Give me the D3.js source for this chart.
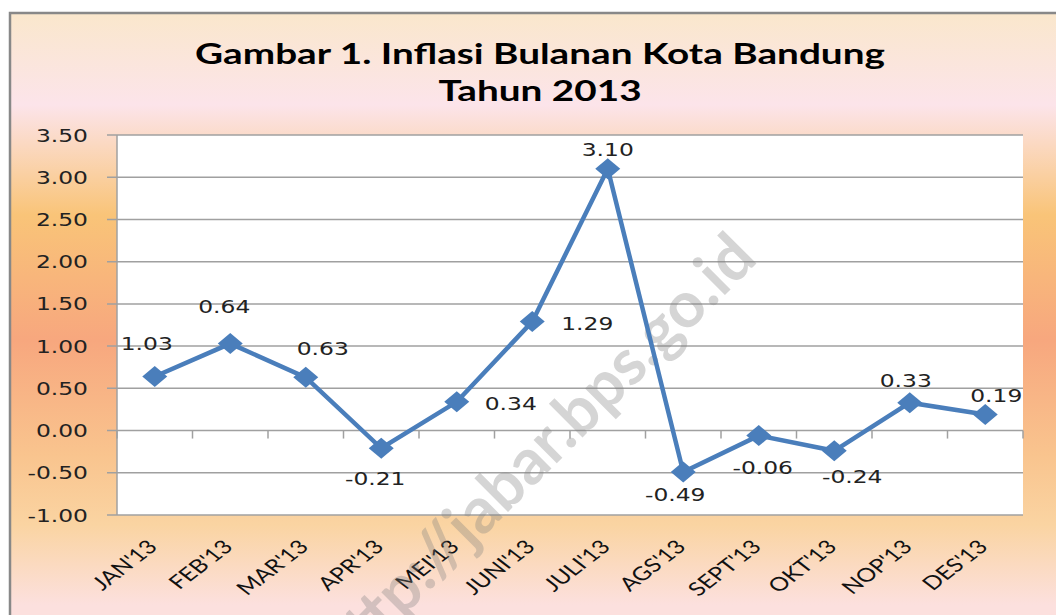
<!DOCTYPE html>
<html>
<head>
<meta charset="utf-8">
<script src="https://cdn.jsdelivr.net/npm/d3@7"></script>
<style>
  html, body { margin: 0; padding: 0; background: #fff; }
  svg { display: block; }
</style>
</head>
<body>
<svg id="chart" width="1056" height="615"></svg>
<script>
// ---- data ----
const titleLines = ["Gambar 1. Inflasi Bulanan Kota Bandung", "Tahun 2013"];
const categories = ["JAN'13","FEB'13","MAR'13","APR'13","MEI'13","JUNI'13","JULI'13","AGS'13","SEPT'13","OKT'13","NOP'13","DES'13"];
const values = [0.64, 1.03, 0.63, -0.21, 0.34, 1.29, 3.10, -0.49, -0.06, -0.24, 0.33, 0.19];
const valueLabels = ["1.03","0.64","0.63","-0.21","0.34","1.29","3.10","-0.49","-0.06","-0.24","0.33","0.19"];
const yTicks = [-1.0, -0.5, 0.0, 0.5, 1.0, 1.5, 2.0, 2.5, 3.0, 3.5];
const watermark = "http://jabar.bps.go.id";

// ---- label placement (style) ----
const labelOffsets = [[-8,-33],[-6,-37],[17,-29],[-6,30],[54,2],[55,2],[0,-19],[-8,23],[4,32],[18,26],[-4,-22],[11,-19]];

const svg = d3.select("#chart");
const W = 1056, H = 615;
const plot = {left: 117, right: 1023, top: 135, bottom: 515};
const stretch = 1.3;
const lineColor = "#4A7EBB";
const gridColor = "#A0A0A0";

// background gradient
const defs = svg.append("defs");
const grad = defs.append("linearGradient").attr("id","bg")
  .attr("gradientUnits","userSpaceOnUse").attr("x1",0).attr("y1",13).attr("x2",0).attr("y2",615);
[[13,"#FAE7CC"],[105,"#FCE4EA"],[215,"#F9C478"],[340,"#F7A77E"],[455,"#F9C48E"],[525,"#FAD4A2"],[605,"#FCE0DE"]]
  .forEach(([y,c]) => grad.append("stop").attr("offset", ((y-13)/(615-13))).attr("stop-color", c));

svg.append("rect").attr("x",0).attr("y",0).attr("width",W).attr("height",H).attr("fill","#fff");
svg.append("rect").attr("x",10).attr("y",13).attr("width",1100).attr("height",700)
  .attr("fill","url(#bg)").attr("stroke","#888").attr("stroke-width",2.5);

// title
const tg = svg.append("g");
const t1 = tg.append("text").text(titleLines[0])
  .attr("font-family","Lato, 'Open Sans', sans-serif").attr("font-weight","bold").attr("font-size",29).attr("fill","#000");
const natural = t1.node().getComputedTextLength();
const ts = 690 / natural;
t1.attr("text-anchor","middle").attr("transform",`translate(540,64) scale(${ts},1)`);
tg.append("text").text(titleLines[1])
  .attr("font-family","Lato, 'Open Sans', sans-serif").attr("font-weight","bold").attr("font-size",29).attr("fill","#000")
  .attr("text-anchor","middle").attr("transform",`translate(540,101) scale(${ts},1)`);

// plot area
svg.append("rect").attr("x",plot.left).attr("y",plot.top)
  .attr("width",plot.right-plot.left).attr("height",plot.bottom-plot.top).attr("fill","#fff");

const x = d3.scaleBand().domain(categories).range([plot.left, plot.right]).padding(0);
const y = d3.scaleLinear().domain([-1, 3.5]).range([plot.bottom, plot.top]);

// gridlines + y ticks
svg.append("g").selectAll("line").data(yTicks).join("line")
  .attr("x1", plot.left - 10).attr("x2", plot.right)
  .attr("y1", d => y(d)).attr("y2", d => y(d))
  .attr("stroke", gridColor).attr("stroke-width", 1.5);
svg.append("line").attr("x1",plot.left).attr("x2",plot.left).attr("y1",plot.top).attr("y2",plot.bottom)
  .attr("stroke",gridColor).attr("stroke-width",1.5);

svg.append("g").selectAll("text").data(yTicks).join("text")
  .text(d => d3.format(".2f")(d).replace("−","-"))
  .attr("text-anchor","end")
  .attr("transform", d => `translate(88,${y(d)+6.5}) scale(${stretch},1)`)
  .attr("font-family","'DejaVu Sans', Verdana, sans-serif").attr("font-size",18).attr("fill","#222");

// category ticks on zero line
const bounds = categories.map(c => x(c)).concat([plot.right]);
svg.append("g").selectAll("line").data(bounds).join("line")
  .attr("x1", d => d).attr("x2", d => d)
  .attr("y1", y(0)).attr("y2", y(0) + 8)
  .attr("stroke", gridColor).attr("stroke-width", 1.5);

// x labels
svg.append("g").selectAll("text").data(categories).join("text")
  .text(d => d)
  .attr("text-anchor","end")
  .attr("transform", d => `translate(${x(d) + x.bandwidth()/2 + 4},548) scale(${stretch},1) rotate(-45)`)
  .attr("font-family","Lato, 'Open Sans', sans-serif").attr("font-size",19).attr("fill","#111");

// watermark
svg.append("text").text(watermark)
  .attr("text-anchor","middle")
  .attr("transform","translate(552,468) rotate(-45)")
  .attr("font-family","Lato, 'Open Sans', sans-serif").attr("font-weight","bold").attr("font-size",64)
  .attr("fill","#7f7f7f").attr("fill-opacity",0.33);

// line
const cx = d => x(d) + x.bandwidth()/2;
const line = d3.line().x((d,i) => cx(categories[i])).y(d => y(d));
svg.append("path").datum(values).attr("d", line)
  .attr("fill","none").attr("stroke",lineColor).attr("stroke-width",4.5).attr("stroke-linejoin","miter");

// markers
svg.append("g").selectAll("path").data(values).join("path")
  .attr("d","M0,-10.5L12.5,0L0,10.5L-12.5,0Z")
  .attr("transform",(d,i) => `translate(${cx(categories[i])},${y(d)})`)
  .attr("fill",lineColor);

// data labels
svg.append("g").selectAll("text").data(values).join("text")
  .text((d,i) => valueLabels[i])
  .attr("text-anchor","middle")
  .attr("transform",(d,i) => `translate(${cx(categories[i]) + labelOffsets[i][0]},${y(d) + labelOffsets[i][1] + 6.5}) scale(${stretch},1)`)
  .attr("font-family","'DejaVu Sans', Verdana, sans-serif").attr("font-size",18).attr("fill","#222");
</script>
</body>
</html>
